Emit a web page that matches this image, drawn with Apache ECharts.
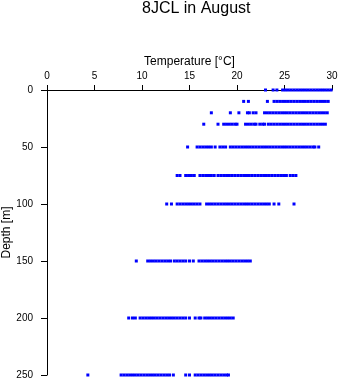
<!DOCTYPE html>
<html>
<head>
<meta charset="utf-8">
<script src="https://cdn.jsdelivr.net/npm/echarts@6/dist/echarts.min.js"></script>
<style>
html,body{margin:0;padding:0;background:#fff;}
#chart{width:341px;height:384px;}
</style>
</head>
<body>
<div id="chart"></div>
<script>
// Depth levels [m]
const depths = [0, 10, 20, 30, 50, 75, 100, 150, 200, 250];

const temps0 = [23.0, 23.8, 24.2, 24.8, 25.1, 25.4, 25.7, 26.0, 26.3, 26.6, 26.9, 27.2, 27.5, 27.8, 28.1, 28.4, 28.7, 29.0, 29.3, 29.6, 29.9];
const temps10 = [20.7, 21.2, 23.2, 23.9, 24.2, 24.5, 24.8, 25.1, 25.4, 25.7, 26.0, 26.3, 26.6, 26.9, 27.2, 27.5, 27.8, 28.1, 28.4, 28.7, 29.0, 29.3, 29.6];
const temps20 = [17.3, 19.3, 20.2, 21.1, 21.3, 21.7, 22.0, 22.9, 23.2, 23.5, 23.8, 24.1, 24.4, 24.7, 25.0, 25.3, 25.6, 25.9, 26.2, 26.5, 26.8, 27.1, 27.4, 27.7, 28.0, 28.3, 28.6, 28.9, 29.2, 29.5];
const temps30 = [16.5, 18.0, 18.6, 18.9, 19.2, 19.5, 19.8, 20.0, 20.9, 21.2, 21.5, 21.8, 22.0, 22.4, 22.7, 22.9, 23.3, 23.6, 23.9, 24.2, 24.5, 24.8, 25.1, 25.4, 25.7, 26.0, 26.3, 26.6, 26.9, 27.2, 27.5, 27.8, 28.1, 28.4, 28.7, 29.0, 29.3];
const temps50 = [14.8, 15.8, 16.1, 16.4, 16.7, 17.0, 17.3, 17.7, 18.2, 18.5, 18.8, 19.3, 19.6, 19.9, 20.2, 20.5, 20.8, 21.1, 21.4, 21.7, 22.0, 22.3, 22.6, 22.9, 23.2, 23.5, 23.8, 24.1, 24.4, 24.7, 25.0, 25.3, 25.6, 25.9, 26.2, 26.5, 26.8, 27.1, 27.4, 27.7, 28.0, 28.2, 28.6];
const temps75 = [13.7, 14.0, 14.6, 14.9, 15.2, 15.5, 16.1, 16.4, 16.7, 17.0, 17.3, 17.6, 18.0, 18.3, 18.6, 18.9, 19.2, 19.5, 19.8, 20.1, 20.4, 20.7, 21.0, 21.3, 21.6, 21.9, 22.2, 22.5, 22.8, 23.1, 23.4, 23.7, 24.0, 24.3, 24.6, 24.9, 25.2, 25.6, 25.9, 26.2];
const temps100 = [12.6, 13.1, 13.7, 14.0, 14.3, 14.6, 14.9, 15.2, 15.5, 15.8, 16.1, 16.8, 17.1, 17.4, 17.7, 18.0, 18.3, 18.6, 18.9, 19.2, 19.5, 19.8, 20.1, 20.4, 20.7, 21.0, 21.3, 21.6, 21.9, 22.2, 22.5, 22.8, 23.1, 23.4, 23.9, 24.4, 26.0];
const temps150 = [9.4, 10.6, 10.9, 11.2, 11.5, 11.8, 12.1, 12.4, 12.7, 13.0, 13.4, 13.7, 14.0, 14.3, 14.6, 15.0, 15.4, 16.0, 16.3, 16.6, 16.9, 17.2, 17.5, 17.8, 18.1, 18.4, 18.7, 19.0, 19.3, 19.6, 19.9, 20.2, 20.5, 20.8, 21.1, 21.4];
const temps200 = [8.6, 9.0, 9.3, 9.8, 10.1, 10.4, 10.7, 11.0, 11.3, 11.6, 11.9, 12.2, 12.5, 12.8, 13.1, 13.4, 13.7, 14.0, 14.3, 14.6, 15.0, 15.6, 16.0, 16.2, 16.6, 16.9, 17.2, 17.5, 17.8, 18.1, 18.4, 18.7, 19.0, 19.3, 19.6];
const temps250 = [4.3, 7.8, 8.1, 8.4, 8.7, 9.0, 9.3, 9.6, 9.9, 10.2, 10.5, 10.8, 11.1, 11.4, 11.7, 12.0, 12.3, 12.6, 12.9, 13.3, 14.6, 15.0, 15.6, 15.9, 16.2, 16.5, 16.8, 17.1, 17.4, 17.7, 18.0, 18.3, 18.6, 18.9, 19.1];

const tempsByDepth = [temps0, temps10, temps20, temps30, temps50, temps75, temps100, temps150, temps200, temps250];

// Axis ticks
const tempTicks = [0, 5, 10, 15, 20, 25, 30];
const depthTicks = [0, 50, 100, 150, 200, 250];

const points = [];
depths.forEach((d, i) => {
  tempsByDepth[i].forEach(t => points.push([t, d]));
});

const FONT = 'Liberation Sans, Arial, sans-serif';
const chart = echarts.init(document.getElementById('chart'), null, {renderer: 'canvas'});
chart.setOption({
  animation: false,
  backgroundColor: '#ffffff',
  title: {
    text: '8JCL in August',
    left: 137,
    top: -4,
    textStyle: {fontFamily: FONT, fontSize: 16, fontWeight: 'normal', color: '#000'}
  },
  grid: {left: 47, right: 9, top: 90, bottom: 9, containLabel: false, outerBoundsMode: 'none'},
  xAxis: {
    type: 'value',
    position: 'top',
    min: tempTicks[0],
    max: tempTicks[tempTicks.length - 1],
    interval: 5,
    name: 'Temperature [°C]',
    nameLocation: 'middle',
    nameGap: 22,
    nameMoveOverlap: false,
    nameTextStyle: {fontFamily: FONT, fontSize: 12, color: '#000'},
    axisLine: {show: true, onZero: false, lineStyle: {color: '#000', width: 1}},
    axisTick: {show: true, length: 5, lineStyle: {color: '#000', width: 1}},
    axisLabel: {fontFamily: FONT, fontSize: 10, color: '#000', margin: 9},
    splitLine: {show: false}
  },
  yAxis: {
    type: 'value',
    inverse: true,
    min: depthTicks[0],
    max: depthTicks[depthTicks.length - 1],
    interval: 50,
    name: 'Depth [m]',
    nameLocation: 'middle',
    nameGap: 34,
    nameRotate: 90,
    nameMoveOverlap: false,
    nameTextStyle: {fontFamily: FONT, fontSize: 12, color: '#000'},
    axisLine: {show: true, onZero: false, lineStyle: {color: '#000', width: 1}},
    axisTick: {show: true, length: 6, lineStyle: {color: '#000', width: 1}},
    axisLabel: {fontFamily: FONT, fontSize: 10, color: '#000', margin: 14},
    splitLine: {show: false}
  },
  series: [{
    type: 'scatter',
    data: points,
    symbol: 'rect',
    symbolSize: 3,
    itemStyle: {color: '#0000ff', opacity: 1},
    emphasis: {disabled: true}
  }]
});
</script>
</body>
</html>
